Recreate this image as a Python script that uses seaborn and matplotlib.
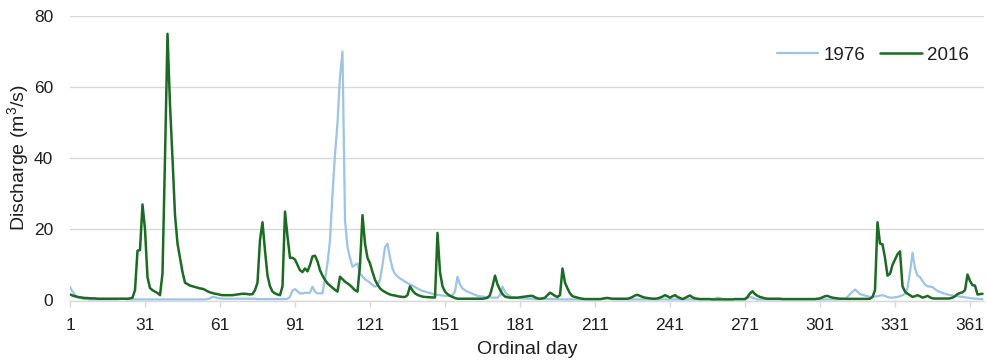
import matplotlib
matplotlib.use("Agg")
import matplotlib.pyplot as plt
import pandas as pd
import seaborn as sns
from matplotlib.lines import Line2D

# ---- data ----
days = list(range(1, 367))

q_1976 = [
    3.8, 2.5, 1.6, 1.0, 0.7, 0.5, 0.4, 0.4, 0.3, 0.3,
    0.3, 0.3, 0.3, 0.3, 0.3, 0.3, 0.3, 0.3, 0.3, 0.3,
    0.4, 0.5, 0.4, 0.3, 0.3, 0.3, 0.3, 0.3, 0.3, 0.3,
    0.3, 0.3, 0.3, 0.3, 0.3, 0.3, 0.3, 0.3, 0.3, 0.3,
    0.3, 0.3, 0.3, 0.3, 0.3, 0.3, 0.3, 0.3, 0.3, 0.3,
    0.3, 0.3, 0.3, 0.3, 0.3, 0.4, 0.6, 1.0, 0.9, 0.7,
    0.6, 0.5, 0.5, 0.5, 0.5, 0.5, 0.5, 0.5, 0.5, 0.5,
    0.5, 0.5, 0.5, 0.5, 0.5, 0.4, 0.4, 0.4, 0.4, 0.4,
    0.4, 0.4, 0.4, 0.4, 0.4, 0.4, 0.4, 0.5, 1.0, 2.8,
    3.2, 2.6, 2.0, 2.0, 2.2, 2.1, 2.2, 3.9, 2.5, 2.0,
    2.0, 2.1, 6.0, 10.4, 17.0, 30.0, 41.0, 50.0, 63.0, 70.0,
    22.6, 15.0, 12.0, 9.5, 10.0, 10.4, 7.6, 6.8, 6.0, 5.5,
    5.0, 4.4, 3.9, 4.2, 5.8, 10.0, 15.0, 16.0, 12.0, 9.0,
    7.5, 6.8, 6.2, 5.8, 5.3, 4.9, 4.5, 4.2, 3.8, 3.4,
    3.0, 2.7, 2.5, 2.3, 2.1, 1.9, 1.7, 1.6, 1.5, 1.4,
    1.3, 1.3, 1.3, 1.5, 2.5, 6.7, 4.5, 3.4, 2.9, 2.5,
    2.2, 1.9, 1.6, 1.3, 1.2, 1.1, 1.0, 0.9, 0.9, 0.8,
    0.8, 0.8, 1.5, 3.9, 2.5, 1.6, 1.2, 0.9, 0.8, 0.7,
    0.6, 0.6, 0.5, 0.5, 0.5, 0.5, 0.4, 0.4, 0.4, 0.4,
    0.4, 0.4, 0.4, 0.4, 0.4, 0.4, 0.3, 0.3, 0.3, 0.3,
    0.3, 0.3, 0.3, 0.3, 0.3, 0.3, 0.3, 0.3, 0.3, 0.3,
    0.3, 0.3, 0.3, 0.5, 0.8, 0.7, 0.5, 0.3, 0.3, 0.3,
    0.3, 0.3, 0.3, 0.3, 0.3, 0.3, 0.3, 0.3, 0.3, 0.3,
    0.3, 0.3, 0.3, 0.3, 0.3, 0.3, 0.3, 0.3, 0.3, 0.3,
    0.3, 0.3, 0.3, 0.3, 0.3, 0.3, 0.3, 0.3, 0.3, 0.3,
    0.3, 0.3, 0.3, 0.3, 0.3, 0.3, 0.3, 0.3, 0.5, 0.8,
    0.7, 0.4, 0.3, 0.3, 0.3, 0.3, 0.3, 0.3, 0.3, 0.3,
    0.3, 0.6, 1.0, 0.8, 0.5, 0.3, 0.3, 0.3, 0.3, 0.3,
    0.3, 0.3, 0.3, 0.3, 0.3, 0.3, 0.3, 0.3, 0.3, 0.3,
    0.3, 0.3, 0.3, 0.3, 0.3, 0.3, 0.3, 0.3, 0.3, 0.3,
    0.3, 0.3, 0.3, 0.3, 0.3, 0.3, 0.3, 0.3, 0.3, 0.4,
    0.5, 1.0, 1.8, 2.5, 3.1, 2.5, 1.8, 1.6, 1.4, 1.2,
    1.0, 1.0, 1.1, 1.2, 1.4, 1.5, 1.3, 1.0, 0.8, 0.8,
    0.9, 1.0, 1.2, 1.5, 1.9, 3.5, 8.0, 13.4, 9.0, 7.0,
    6.6, 5.5, 4.5, 4.0, 3.9, 3.8, 3.2, 2.7, 2.4, 2.1,
    1.9, 1.7, 1.5, 1.4, 1.3, 1.2, 1.1, 1.0, 0.9, 0.8,
    0.7, 0.6, 0.5, 0.5, 0.4, 0.4,
]

q_2016 = [
    1.7, 1.4, 1.2, 1.0, 0.9, 0.8, 0.7, 0.7, 0.6, 0.6,
    0.6, 0.5, 0.5, 0.5, 0.5, 0.5, 0.5, 0.5, 0.5, 0.5,
    0.5, 0.5, 0.5, 0.5, 0.6, 0.8, 2.9, 14.0, 14.2, 27.0,
    20.0, 6.5, 3.5, 2.9, 2.5, 2.1, 1.5, 7.6, 40.0, 75.0,
    55.0, 40.0, 24.0, 16.0, 12.0, 8.0, 5.0, 4.6, 4.2, 4.0,
    3.8, 3.6, 3.4, 3.3, 3.0, 2.6, 2.3, 2.1, 1.9, 1.8,
    1.6, 1.5, 1.5, 1.5, 1.5, 1.5, 1.6, 1.7, 1.8, 1.9,
    1.9, 1.8, 1.7, 1.8, 2.9, 5.0, 17.0, 22.0, 14.0, 7.0,
    4.0, 2.5, 2.0, 1.7, 1.5, 4.0, 25.0, 18.0, 12.0, 12.0,
    11.5, 10.0, 8.5, 8.0, 9.0, 8.2, 10.0, 12.4, 12.6, 11.0,
    8.5, 7.0, 5.8, 4.8, 4.2, 3.6, 3.0, 2.5, 6.7, 6.0,
    5.3, 4.8, 4.3, 3.6, 2.9, 2.5, 10.0, 24.0, 16.0, 12.0,
    10.4, 8.0, 5.8, 4.5, 3.4, 2.8, 2.4, 2.0, 1.7, 1.5,
    1.4, 1.2, 1.1, 1.0, 1.0, 1.5, 4.0, 2.8, 2.0, 1.6,
    1.3, 1.1, 1.0, 0.95, 0.9, 0.85, 0.85, 19.0, 8.0, 4.0,
    2.5, 1.8, 1.3, 1.0, 0.7, 0.5, 0.5, 0.5, 0.5, 0.5,
    0.5, 0.5, 0.5, 0.5, 0.5, 0.5, 0.6, 0.8, 1.5, 4.0,
    7.0, 4.5, 3.0, 1.8, 1.1, 0.9, 0.8, 0.8, 0.8, 0.8,
    0.9, 1.0, 1.1, 1.2, 1.3, 1.3, 0.9, 0.6, 0.5, 0.6,
    0.8, 1.5, 2.2, 1.8, 1.3, 1.0, 1.5, 9.0, 5.0, 3.4,
    2.0, 1.2, 1.0, 0.8, 0.6, 0.5, 0.4, 0.4, 0.4, 0.4,
    0.4, 0.4, 0.4, 0.5, 0.6, 0.7, 0.6, 0.5, 0.5, 0.5,
    0.5, 0.5, 0.5, 0.5, 0.7, 1.0, 1.4, 1.6, 1.3, 1.0,
    0.8, 0.7, 0.6, 0.5, 0.5, 0.6, 0.8, 1.1, 1.5, 1.2,
    0.8, 1.2, 1.5, 1.0, 0.7, 0.4, 0.7, 1.1, 1.4, 0.9,
    0.6, 0.5, 0.4, 0.4, 0.4, 0.4, 0.4, 0.3, 0.3, 0.3,
    0.3, 0.3, 0.3, 0.3, 0.3, 0.3, 0.4, 0.4, 0.4, 0.4,
    0.4, 1.0, 2.0, 2.6, 1.8, 1.3, 1.0, 0.8, 0.6, 0.5,
    0.5, 0.5, 0.5, 0.5, 0.5, 0.4, 0.4, 0.4, 0.4, 0.4,
    0.4, 0.4, 0.4, 0.4, 0.4, 0.4, 0.4, 0.4, 0.4, 0.5,
    0.6, 0.9, 1.2, 1.3, 1.0, 0.8, 0.7, 0.6, 0.5, 0.5,
    0.45, 0.45, 0.45, 0.45, 0.45, 0.45, 0.45, 0.45, 0.45, 0.45,
    0.5, 1.0, 2.9, 22.0, 16.0, 15.8, 12.0, 7.0, 7.5, 10.0,
    11.5, 13.0, 13.8, 4.0, 2.5, 1.9, 1.5, 1.0, 1.2, 1.5,
    1.2, 0.8, 1.0, 1.3, 0.9, 0.6, 0.55, 0.55, 0.55, 0.55,
    0.55, 0.55, 0.6, 0.8, 1.2, 1.8, 2.1, 2.3, 2.9, 7.3,
    5.5, 4.3, 4.2, 1.7, 1.8, 1.9,
]

years = ["1976", "2016"]
colors = {"1976": "#9dc3e6", "2016": "#1b6b22"}
x_ticks = [1, 31, 61, 91, 121, 151, 181, 211, 241, 271, 301, 331, 361]
y_ticks = [0, 20, 40, 60, 80]

df = pd.DataFrame({
    "day": days + days,
    "q": q_1976 + q_2016,
    "year": [years[0]] * len(days) + [years[1]] * len(days),
})

# ---- styling ----
sns.set_theme(style="white")
plt.rcParams["font.family"] = ["Liberation Sans", "DejaVu Sans"]
plt.rcParams["mathtext.fontset"] = "custom"
plt.rcParams["mathtext.rm"] = "Liberation Sans"
plt.rcParams["mathtext.it"] = "Liberation Sans:italic"
text_color = "#1f1f1f"
grid_color = "#d9d9d9"
fs = 12.5

W, H = 988, 360
fig = plt.figure(figsize=(W / 100, H / 100), dpi=100)
ax = fig.add_axes([70 / W, 1 - 300.5 / H, (984 - 70) / W, (300.5 - 16) / H])

sns.lineplot(data=df, x="day", y="q", hue="year", hue_order=years,
             palette=colors, ax=ax, linewidth=1.8, legend=False)
ax.lines[0].set_linewidth(1.6)
ax.lines[1].set_linewidth(1.8)

ax.set_xlim(1, 366.6)
ax.set_ylim(0, 80)
ax.set_xticks(x_ticks)
ax.set_yticks(y_ticks)
ax.set_xlabel("")
ax.set_ylabel("")

ax.grid(axis="y", color=grid_color, linewidth=1.0)
ax.grid(axis="x", visible=False)
ax.set_axisbelow(True)
for s in ["left", "right", "top"]:
    ax.spines[s].set_visible(False)
ax.spines["bottom"].set_color(grid_color)
ax.spines["bottom"].set_linewidth(1.0)

ax.tick_params(axis="x", direction="out", length=4, width=1, color=grid_color,
               pad=8.5, labelsize=fs, labelcolor=text_color, bottom=True)
ax.tick_params(axis="y", length=0, pad=12, labelsize=fs, labelcolor=text_color)

fig.text(18 / W, 1 - 158 / H, "Discharge (m$^3$/s)", rotation=90,
         ha="center", va="center", fontsize=14, color=text_color)
fig.text(527 / W, 1 - 350 / H, "Ordinal day", ha="center", va="center",
         fontsize=14, color=text_color)

handles = [Line2D([], [], color=colors[y], linewidth=(1.6 if y == "1976" else 1.8)) for y in years]
ax.legend(handles, years, ncol=2, frameon=False, loc="center right",
          bbox_to_anchor=(969 / W, 1 - 55 / H), bbox_transform=fig.transFigure,
          borderpad=0, borderaxespad=0, handlelength=2.2, handletextpad=0.3,
          columnspacing=0.8, fontsize=13.5, labelcolor=text_color)

fig.savefig("out.png", dpi=100)
